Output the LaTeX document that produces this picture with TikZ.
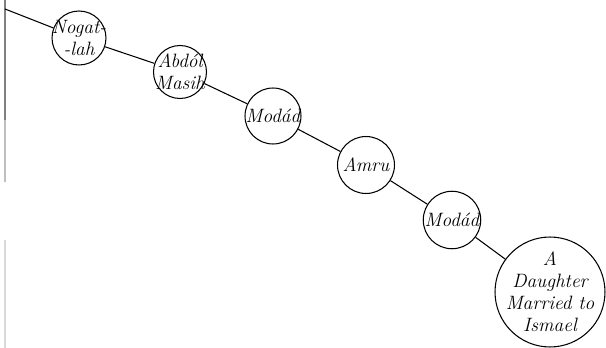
\documentclass[tikz,border=0pt]{standalone}
\usepackage{tikz}
\begin{document}
\begin{tikzpicture}[x=0.02cm,y=-0.02cm,line width=0.6pt,
    person/.style={draw,circle,inner sep=-7pt,align=center,font=\fontsize{11}{12.5}\selectfont\itshape,minimum size=#1},
    person/.default=1.12cm]
    \useasboundingbox (0,0) rectangle (606,348);
    \draw[gray] (5,0) -- (5,120);
    \draw[gray!50] (5,120) -- (5,182);
    \draw[gray!30] (5,240) -- (5,348);
    \coordinate (edge) at (5,9);
    \node[person=1.08cm] (nogat) at (79,38) {Nogat-\\-lah};
    \node[person=1.06cm] (abdol) at (180,72) {Abd\'ol\\Masih};
    \node[person] (modad) at (273,116) {Mod\'ad};
    \node[person=1.14cm] (amru) at (366,165) {Amru};
    \node[person=1.15cm] (modadii) at (452,220) {Mod\'ad};
    \node[person=2.2cm] (daughter) at (550,292) {A\\Daughter\\Married to\\Ismael};
    \foreach \a/\b in {edge/nogat,nogat/abdol,abdol/modad,modad/amru,amru/modadii,modadii/daughter}{
        \draw (\a) -- (\b);
    }
\end{tikzpicture}
\end{document}
